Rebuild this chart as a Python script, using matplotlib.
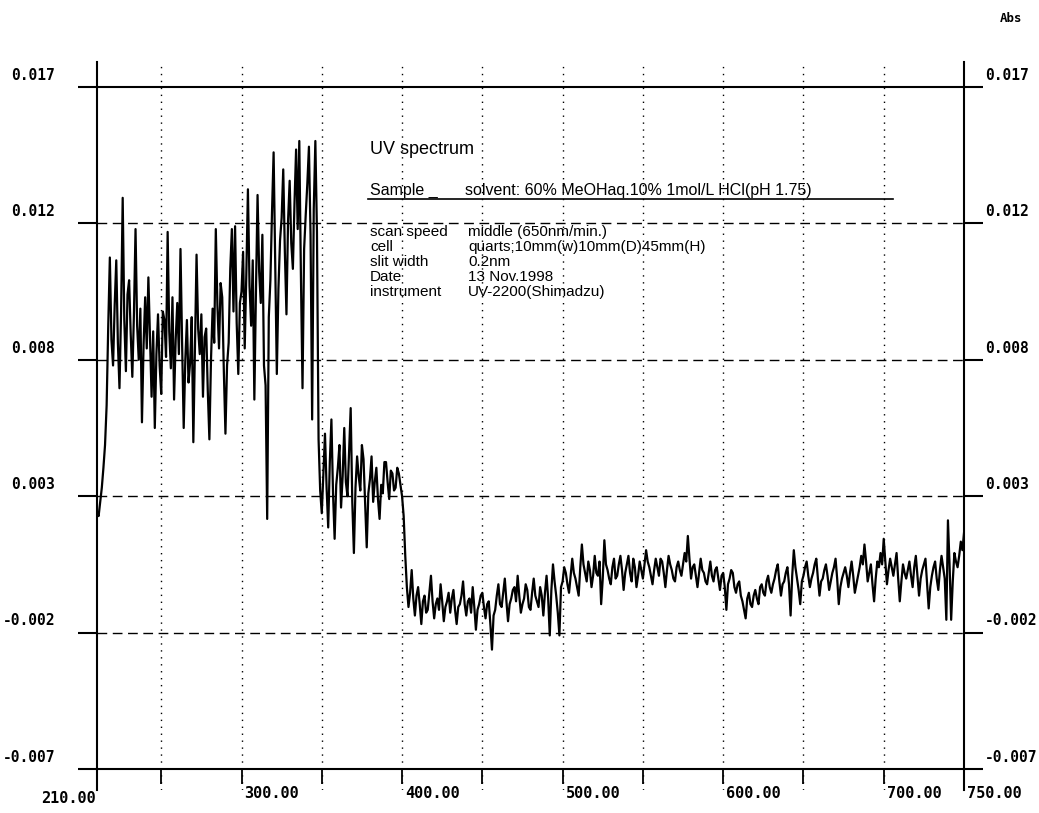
import numpy as np
from matplotlib import pyplot as plt
from matplotlib.lines import Line2D

# fonte do texto do cabecalho
plt.rcParams['font.family'] = ['Liberation Sans', 'DejaVu Sans']

# dados do espectro (absorbancia em mAbs, a cada 1 nm de 210 a 750)
wl_start = 210
abs_milli = [
    2.0, 1.9, 2.4, 2.9, 3.6, 4.4, 5.8, 8.6, 11.0, 8.1,
    7.2, 9.3, 10.9, 8.0, 6.4, 9.1, 13.1, 8.8, 7.0, 9.7,
    10.2, 8.3, 6.8, 9.0, 12.0, 8.6, 7.4, 9.2, 5.2, 7.9,
    9.6, 7.8, 10.3, 8.2, 6.1, 8.4, 5.0, 7.6, 9.0, 7.2,
    6.2, 9.1, 8.8, 7.5, 11.9, 8.4, 7.1, 9.6, 6.0, 8.1,
    9.4, 7.6, 11.3, 8.0, 5.0, 7.4, 8.8, 6.6, 7.3, 8.9,
    4.5, 7.8, 11.1, 8.5, 7.6, 9.0, 6.1, 8.2, 8.5, 6.3,
    4.6, 7.4, 9.2, 8.0, 12.0, 9.3, 7.8, 10.1, 9.6, 7.0,
    4.8, 7.2, 8.0, 10.6, 12.0, 9.1, 12.1, 8.7, 6.9, 9.4,
    9.8, 11.2, 7.8, 10.4, 13.4, 10.0, 8.6, 10.9, 6.0, 9.8,
    13.2, 10.5, 9.4, 11.8, 7.2, 6.5, 1.8, 8.9, 10.2, 12.6,
    14.7, 10.8, 6.9, 9.9, 11.6, 12.4, 14.1, 11.2, 9.0, 12.3,
    13.7, 11.5, 10.6, 12.9, 14.8, 12.0, 15.1, 10.4, 6.4, 11.3,
    12.5, 13.6, 14.9, 11.8, 5.3, 12.7, 15.1, 11.9, 4.6, 2.8,
    2.0, 3.4, 4.8, 2.9, 1.5, 3.8, 5.3, 2.7, 1.1, 3.0,
    3.6, 4.4, 2.2, 3.3, 5.0, 3.1, 2.6, 4.1, 5.7, 2.4,
    0.6, 2.9, 4.0, 3.3, 2.8, 4.4, 3.9, 2.3, 0.8, 2.7,
    3.2, 4.0, 2.4, 3.1, 3.6, 2.5, 1.8, 3.0, 2.7, 3.8,
    3.8, 3.1, 2.5, 3.5, 3.4, 2.8, 2.9, 3.6, 3.4, 3.0,
    2.6, 1.9, 0.5, -0.6, -1.3, -0.8, 0.0, -1.0, -1.6, -0.9,
    -0.6, -1.2, -1.9, -1.1, -0.9, -1.5, -1.4, -0.8, -0.2, -1.1,
    -1.7, -1.2, -1.0, -1.4, -0.5, -1.1, -1.8, -1.3, -1.1, -0.8,
    -1.5, -1.0, -0.7, -1.4, -1.9, -1.3, -1.2, -0.9, -0.4, -1.2,
    -1.6, -1.1, -1.0, -1.5, -0.6, -1.3, -2.1, -1.4, -1.2, -0.9,
    -0.8, -1.3, -1.7, -1.2, -1.1, -1.9, -2.8, -1.6, -1.4, -0.9,
    -0.5, -1.2, -1.3, -0.8, -0.3, -1.1, -1.8, -1.2, -1.0, -0.7,
    -0.6, -1.1, -0.2, -0.9, -1.5, -1.2, -1.0, -0.5, -0.7, -1.3,
    -1.4, -0.8, -0.3, -0.9, -1.1, -1.3, -0.6, -0.9, -1.6, -0.8,
    -0.2, -1.0, -2.3, -0.7, 0.2, -0.4, -0.9, -1.5, -2.3, -0.6,
    -0.4, 0.1, -0.1, -0.5, -0.8, -0.2, 0.4, -0.1, -0.3, -0.6,
    -0.9, 0.1, 0.9, 0.2, -0.1, -0.4, 0.3, 0.0, -0.6, -0.2,
    0.5, -0.1, -0.2, 0.3, -1.2, -0.3, 1.05, 0.2, 0.0, -0.3,
    -0.5, 0.1, 0.4, -0.3, -0.2, 0.2, 0.5, 0.0, -0.7, -0.1,
    0.2, 0.5, -0.1, -0.4, 0.4, 0.1, -0.6, -0.2, 0.3, 0.0,
    -0.3, 0.2, 0.7, 0.3, 0.1, -0.2, -0.5, 0.0, 0.4, 0.1,
    -0.2, 0.4, 0.3, -0.1, -0.6, 0.0, 0.5, 0.2, 0.0, -0.3,
    -0.4, 0.1, 0.3, 0.0, -0.2, 0.2, 0.6, 0.3, 1.2, 0.4,
    -0.3, 0.1, 0.2, -0.2, -0.6, -0.1, 0.4, 0.0, -0.1, -0.4,
    -0.5, -0.1, 0.3, -0.2, -0.4, 0.0, 0.1, -0.3, -0.7, -0.2,
    -0.1, -0.6, -1.4, -0.5, -0.3, 0.0, -0.1, -0.6, -0.8, -0.5,
    -0.4, -0.9, -1.1, -1.4, -1.7, -1.0, -0.8, -1.2, -1.3, -0.9,
    -0.7, -1.0, -1.2, -0.6, -0.5, -0.8, -0.9, -0.4, -0.2, -0.6,
    -0.8, -0.5, -0.3, 0.0, 0.2, -0.4, -0.9, -0.5, -0.4, -0.1,
    0.1, -0.5, -1.6, -0.2, 0.7, 0.1, -0.3, -0.7, -1.2, -0.4,
    -0.2, 0.1, 0.3, -0.2, -0.6, -0.3, -0.1, 0.2, 0.4, -0.3,
    -0.9, -0.4, -0.3, 0.0, 0.2, -0.2, -0.7, -0.4, -0.1, 0.1,
    0.4, -0.3, -1.2, -0.6, -0.3, -0.1, 0.1, -0.2, -0.6, -0.1,
    0.3, -0.2, -0.8, -0.5, -0.2, 0.1, 0.5, 0.2, 0.9, 0.3,
    -0.4, -0.1, 0.2, -0.5, -1.1, -0.3, 0.3, 0.1, 0.6, 0.2,
    1.1, 0.3, -0.5, 0.0, 0.4, 0.1, -0.2, 0.2, 0.6, -0.3,
    -1.1, -0.4, 0.2, -0.1, -0.3, 0.0, 0.3, -0.2, -0.6, 0.1,
    0.5, -0.2, -0.9, -0.3, 0.0, 0.2, 0.4, -0.5, -1.35, -0.6,
    -0.2, 0.1, 0.3, -0.3, -0.7, 0.0, 0.5, 0.1, -0.3, -1.75,
    1.75, 0.2, -1.75, -0.4, 0.6, 0.3, 0.1, 0.5, 1.0, 0.7,
    1.3,
]
wavelengths = wl_start + np.arange(len(abs_milli))
absorbance = np.array(abs_milli) / 1000.0

# eixos: valores das marcas e textos como aparecem no papel
y_ticks = [0.0170, 0.0122, 0.0074, 0.0026, -0.0022, -0.0070]
y_tick_labels = ['0.017', '0.012', '0.008', '0.003', '-0.002', '-0.007']
x_grid = [250, 300, 350, 400, 450, 500, 550, 600, 650, 700]
x_labeled = [300, 400, 500, 600, 700, 750]

# textos do cabecalho
title_text = 'UV spectrum'
sample_text = 'Sample _'
solvent_text = 'solvent: 60% MeOHaq.10% 1mol/L HCl(pH 1.75)'
info_keys = ['scan speed', 'cell', 'slit width', 'Date', 'instrument']
info_values = ['middle (650nm/min.)', 'quarts;10mm(w)10mm(D)45mm(H)',
               '0.2nm', '13 Nov.1998', 'UV-2200(Shimadzu)']

# fonte "de impressora" para os numeros dos eixos
num_font = dict(family='DejaVu Sans Mono', fontweight='bold')

W, H = 1039, 813
fig = plt.figure(figsize=(W / 100, H / 100), dpi=100)
ax = fig.add_axes([97 / W, 1 - 790 / H, (964 - 97) / W, (790 - 62) / H])

# grafico de linha
ax.plot(wavelengths, absorbance, color='black', lw=1.6)

ax.set_xlim(210, 750)
ax.set_ylim(-0.00774, 0.01788)

# linhas de grade
for yv in y_ticks[1:-1]:
    ax.axhline(yv, color='black', lw=1.0, ls=(0, (7, 4)))
ax.axhline(y_ticks[0], color='black', lw=1.5)
for xv in x_grid:
    ax.axvline(xv, color='black', lw=1.0, ls=(0, (1, 4)))

# bordas
ax.spines['top'].set_visible(False)
ax.spines['bottom'].set_position(('data', y_ticks[-1]))
for s in ['left', 'right', 'bottom']:
    ax.spines[s].set_linewidth(1.5)

ax.set_xticks([210] + x_grid + [750])
ax.set_xticklabels([])
ax.set_yticks(y_ticks)
ax.set_yticklabels([])
ax.tick_params(axis='x', direction='out', length=11, width=1.3)
ax.tick_params(axis='y', direction='out', length=14, width=1.5, left=True, right=True)

# rotulos do eixo y (esquerda e direita)
for yv, lab in zip(y_ticks, y_tick_labels):
    ax.annotate(lab, xy=(0, yv), xycoords=('axes fraction', 'data'),
                xytext=(-30, 3), textcoords='offset points',
                ha='right', va='bottom', fontsize=10.5, **num_font)
    ax.annotate(lab, xy=(1, yv), xycoords=('axes fraction', 'data'),
                xytext=(15, 3), textcoords='offset points',
                ha='left', va='bottom', fontsize=10.5, **num_font)

# rotulos do eixo x
ax.annotate('210.00', xy=(210, y_ticks[-1]), xytext=(-1, -16), textcoords='offset points',
            ha='right', va='top', fontsize=11, **num_font)
for xv in x_labeled:
    ax.annotate('%.2f' % xv, xy=(xv, y_ticks[-1]), xytext=(2, -12), textcoords='offset points',
                ha='left', va='top', fontsize=11, **num_font)

fig.text(1000 / W, 1 - 18 / H, 'Abs', fontsize=9, ha='left', va='center', **num_font)

# bloco de texto com as condicoes
fig.text(370 / W, 1 - 150 / H, title_text, fontsize=13, va='center')
fig.text(370 / W, 1 - 190 / H, sample_text, fontsize=11.5, va='center')
fig.text(465 / W, 1 - 190 / H, solvent_text, fontsize=11.5, va='center')
fig.add_artist(Line2D([368 / W, 893 / W], [1 - 199 / H, 1 - 199 / H], color='black', lw=1.2))
for i, (k, v) in enumerate(zip(info_keys, info_values)):
    yy = 1 - (232 + 15 * i) / H
    fig.text(370 / W, yy, k, fontsize=11, va='center')
    fig.text(468 / W, yy, v, fontsize=11, va='center')

fig.savefig('out.png', dpi=100)
